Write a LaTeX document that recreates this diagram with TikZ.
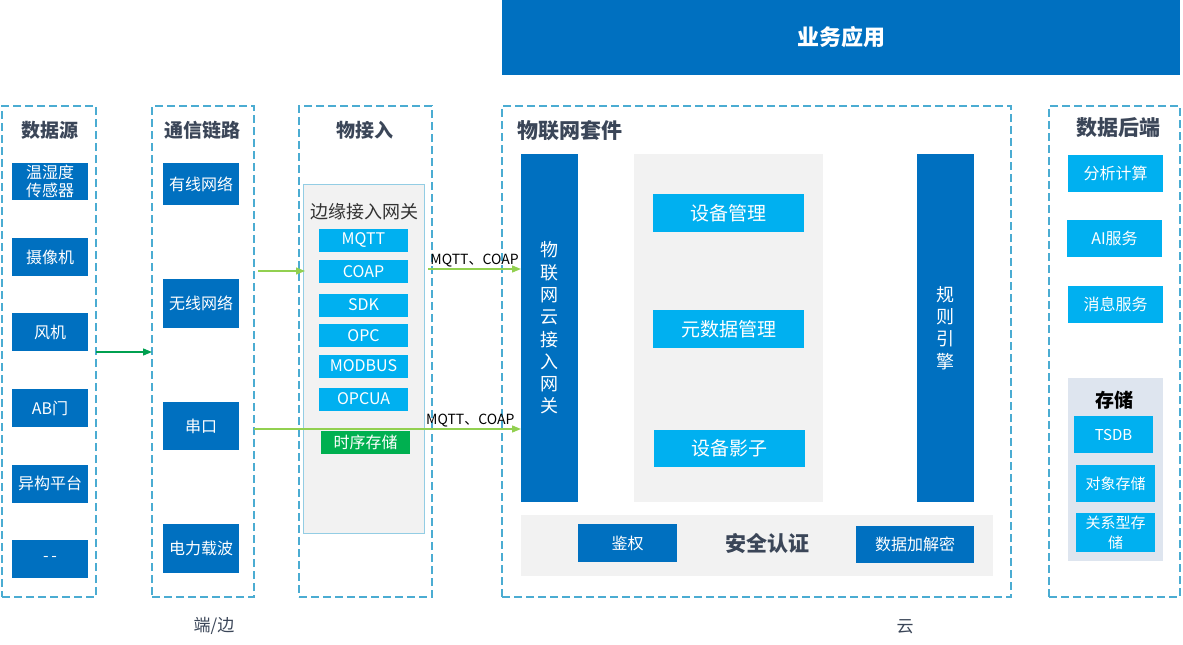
\documentclass[tikz,border=0pt]{standalone}
\usepackage{fontspec}
\setmainfont{Noto Sans CJK SC}
\usepackage{tikz}
\usetikzlibrary{arrows.meta}
\definecolor{dunkelblau}{RGB}{0,112,192}
\definecolor{hellblau}{RGB}{0,176,240}
\definecolor{gruen}{RGB}{0,176,80}
\definecolor{grau}{RGB}{242,242,242}
\definecolor{graublau}{RGB}{222,229,239}
\definecolor{rahmenfarbe}{RGB}{75,172,210}
\definecolor{titelfarbe}{RGB}{59,70,88}
\definecolor{pfeilhell}{RGB}{146,208,80}
\definecolor{pfeildunkel}{RGB}{0,160,80}
\newcommand{\fsz}[2]{\fontsize{#1pt}{#2pt}\selectfont}

\begin{document}
\begin{tikzpicture}[x=1pt, y=-1pt,
	kasten/.style={rectangle, inner sep=0pt, outer sep=0pt, align=center, text=white, font=\fsz{16}{18}},
	dk/.style={kasten, fill=dunkelblau},
	hk/.style={kasten, fill=hellblau},
	rahmen/.style={kasten, draw=rahmenfarbe, line width=1.4pt, dash pattern=on 8pt off 4pt},
	titel/.style={text=titelfarbe, font=\bfseries\fsz{19}{22}},
	pfl/.style={draw=pfeilhell, line width=1.3pt, -{Triangle[length=9pt,width=7pt]}},
	lbl/.style={text=black, font=\fsz{14}{16}, inner sep=1pt}]

	\useasboundingbox (0,0) rectangle (1183,645);

	% Kopf
	\node[dk, minimum width=678pt, minimum height=75pt, font=\bfseries\fsz{22}{26}] (B) at (841,37.5) {业务应用};

	% Rahmen
	\node[rahmen, minimum width=94pt, minimum height=491pt] (FD) at (49,351.5) {};
	\node[rahmen, minimum width=102pt, minimum height=491pt] (FK) at (203,351.5) {};
	\node[rahmen, minimum width=133pt, minimum height=491pt] (FW) at (365.5,351.5) {};
	\node[rahmen, minimum width=509pt, minimum height=491pt] (FI) at (756.5,351.5) {};
	\node[rahmen, minimum width=131pt, minimum height=491pt] (FB) at (1114.5,351.5) {};

	\node[titel] (TD) at (50,130) {数据源};
	\node[titel] (TK) at (202,130) {通信链路};
	\node[titel] (TW) at (365,130) {物接入};
	\node[titel, anchor=west, font=\bfseries\fsz{21}{24}] (TI) at (514,131) {物联网套件};
	\node[titel, font=\bfseries\fsz{21}{24}] (TB) at (1118,128) {数据后端};

	% Datenquellen
	\node[dk, minimum width=76pt, minimum height=37pt] (D1) at (50,181.5) {温湿度\\传感器};
	\node[dk, minimum width=76pt, minimum height=38pt] (D2) at (50,257) {摄像机};
	\node[dk, minimum width=76pt, minimum height=38pt] (D3) at (50,332) {风机};
	\node[dk, minimum width=76pt, minimum height=38pt] (D4) at (50,408) {AB门};
	\node[dk, minimum width=76pt, minimum height=38pt] (D5) at (50,483.5) {异构平台};
	\node[dk, minimum width=76pt, minimum height=38pt] (D6) at (50,559) {-\,-};

	% Kommunikation
	\node[dk, minimum width=76pt, minimum height=42pt] (K1) at (201,184) {有线网络};
	\node[dk, minimum width=76pt, minimum height=49pt] (K2) at (201,303.5) {无线网络};
	\node[dk, minimum width=76pt, minimum height=48pt] (K3) at (201,426) {串口};
	\node[dk, minimum width=76pt, minimum height=49pt] (K4) at (201,548.5) {电力载波};

	% Gateway
	\node[kasten, fill=grau, draw=rahmenfarbe!60, line width=0.8pt, minimum width=121pt, minimum height=349pt] (G) at (363.5,358.5) {};
	\node[text=black!80, font=\fsz{18}{20}] (GT) at (364,212) {边缘接入网关};
	\node[hk, minimum width=89pt, minimum height=23pt] (P1) at (363.5,240.5) {MQTT};
	\node[hk, minimum width=89pt, minimum height=23pt] (P2) at (363.5,271.5) {COAP};
	\node[hk, minimum width=89pt, minimum height=23pt] (P3) at (363.5,305) {SDK};
	\node[hk, minimum width=89pt, minimum height=23pt] (P4) at (363.5,335.5) {OPC};
	\node[hk, minimum width=89pt, minimum height=23pt] (P5) at (363.5,366) {MODBUS};
	\node[hk, minimum width=89pt, minimum height=23pt] (P6) at (363.5,399) {OPCUA};
	\node[kasten, fill=gruen, minimum width=89pt, minimum height=23pt] (P7) at (365.5,442.5) {时序存储};

	% Cloud
	\node[dk, minimum width=57pt, minimum height=348pt, font=\fsz{18}{22.3}] (A) at (549.5,328) {物\\联\\网\\云\\接\\入\\网\\关};
	\node[kasten, fill=grau, minimum width=189pt, minimum height=348pt] (M) at (728.5,328) {};
	\node[hk, minimum width=151pt, minimum height=38pt, font=\fsz{19}{22}] (M1) at (728.5,213) {设备管理};
	\node[hk, minimum width=151pt, minimum height=38pt, font=\fsz{19}{22}] (M2) at (728.5,329) {元数据管理};
	\node[hk, minimum width=151pt, minimum height=37pt, font=\fsz{19}{22}] (M3) at (729.5,448.5) {设备影子};
	\node[dk, minimum width=57pt, minimum height=348pt, font=\fsz{18}{22.3}] (R) at (945.5,328) {规\\则\\引\\擎};

	\node[kasten, fill=grau, minimum width=472pt, minimum height=61pt] (S) at (757,545.5) {};
	\node[dk, minimum width=99pt, minimum height=38pt] (S1) at (627.5,543) {鉴权};
	\node[titel, font=\bfseries\fsz{21}{24}] (ST) at (767,544) {安全认证};
	\node[dk, minimum width=118pt, minimum height=37pt] (S2) at (915,544.5) {数据加解密};

	% Backend
	\node[hk, minimum width=95pt, minimum height=37pt] (E1) at (1115.5,173.5) {分析计算};
	\node[hk, minimum width=95pt, minimum height=37pt] (E2) at (1114.5,238.5) {AI服务};
	\node[hk, minimum width=95pt, minimum height=37pt] (E3) at (1115.5,304.5) {消息服务};
	\node[kasten, fill=graublau, minimum width=95pt, minimum height=183pt] (SP) at (1115.5,469.5) {};
	\node[text=black, font=\bfseries\fsz{19}{22}] (SPT) at (1114,400) {存储};
	\node[hk, minimum width=79pt, minimum height=37pt, font=\fsz{15}{17}] (T1) at (1113.5,434.5) {TSDB};
	\node[hk, minimum width=79pt, minimum height=37pt, font=\fsz{15}{17}] (T2) at (1115.5,483.5) {对象存储};
	\node[hk, minimum width=79pt, minimum height=39pt, font=\fsz{15}{20}] (T3) at (1115.5,532.5) {关系型存\\储};

	% Unten
	\node[text=titelfarbe, font=\fsz{17}{20}] (L1) at (214,626) {端/边};
	\node[text=titelfarbe, font=\fsz{17}{20}] (L2) at (905,627) {云};

	% Pfeile
	\coordinate (y1) at (0,352);
	\coordinate (y2) at (0,271);
	\coordinate (y3) at (0,269);
	\coordinate (y4) at (0,429);
	\draw[pfl, draw=pfeildunkel] (FD.east |- y1) -- (FK.west |- y1);
	\draw[pfl] ([xshift=4pt]FK.east |- y2) -- ([xshift=2pt]G.west |- y2);
	\draw[pfl] ([xshift=4pt]G.east |- y3) -- node[lbl, above] {MQTT、COAP} (A.west |- y3);
	\draw[pfl] (FK.east |- y4) -- node[lbl, above, pos=0.81] {MQTT、COAP} (A.west |- y4);

\end{tikzpicture}
\end{document}
